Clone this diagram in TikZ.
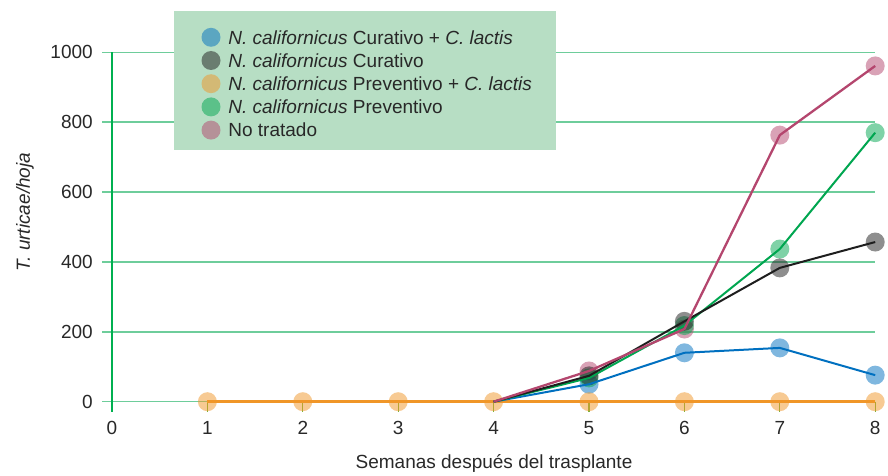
\documentclass[tikz,border=0pt]{standalone}
\usepackage{fontspec}
\setmainfont{Liberation Sans}
\usetikzlibrary{positioning}
\definecolor{gridGreen}{RGB}{110,205,155}
\definecolor{axisGreen}{RGB}{0,176,80}
\definecolor{tickGreen}{RGB}{120,180,60}
\definecolor{legendGreen}{RGB}{183,222,196}
\definecolor{textGray}{RGB}{40,40,40}
\definecolor{serieBlue}{RGB}{0,112,192}
\definecolor{serieBlack}{RGB}{30,30,30}
\definecolor{serieOrange}{RGB}{240,150,40}
\definecolor{serieGreen}{RGB}{0,166,80}
\definecolor{seriePink}{RGB}{180,70,110}

\begin{document}
\begin{tikzpicture}[
    font=\fontsize{19}{22}\selectfont, text=textGray,
    gridline/.style={gridGreen, line width=1.5pt},
    serie/.style={line width=2pt, line join=round},
    dot/.style={circle, fill=#1, fill opacity=0.5, minimum size=19pt, inner sep=0pt},
    ticklabel/.style={inner sep=0pt},
    entry/.style={inner sep=0pt, anchor=west}
]
\useasboundingbox (0,0) rectangle (888pt,-476pt);

\begin{scope}[shift={(112pt,-401.7pt)}, x=95.4pt, y=0.3494pt]
\foreach \v in {0,200,...,1000} {
    \draw[gridline] (-0.1,\v) -- (8,\v);
    \node[ticklabel, anchor=east] (y\v) at (-0.2,\v) {\v};
}
\draw[axisGreen, line width=1.5pt] (0,1000) -- (0,-29);
\foreach \x in {1,...,8}
    \draw[tickGreen, line width=1.2pt] (\x,0) -- (\x,-29);
\foreach \x in {0,...,8}
    \node[ticklabel] (x\x) at (\x,-75) {\x};

% circles
\foreach \x/\v in {5/88,6/208,7/763,8/961}
    \node[dot=seriePink] (nt\x) at (\x,\v) {};
\foreach \x/\v in {5/50,6/140,7/154,8/76}
    \node[dot=serieBlue] (cb\x) at (\x,\v) {};
\foreach \x/\v in {5/68,6/218,7/437,8/770}
    \node[dot=serieGreen] (pv\x) at (\x,\v) {};
\foreach \x/\v in {5/74,6/230,7/383,8/457}
    \node[dot=serieBlack] (cu\x) at (\x,\v) {};
\foreach \x in {1,...,8}
    \node[dot=serieOrange] (pcl\x) at (\x,0) {};

% lines
\draw[serie, serieOrange, line width=2.5pt] (pcl1.center) -- (pcl8.center);
\draw[serie, serieBlue] (pcl4.center) -- (cb5.center) -- (cb6.center) -- (cb7.center) -- (cb8.center);
\draw[serie, serieGreen] (pcl4.center) -- (pv5.center) -- (pv6.center) -- (pv7.center) -- (pv8.center);
\draw[serie, serieBlack] (pcl4.center) -- (cu5.center) -- (cu6.center) -- (cu7.center) -- (cu8.center);
\draw[serie, seriePink, line width=2.3pt] (pcl4.center) -- (nt5.center) -- (nt6.center) -- (nt7.center) -- (nt8.center);
\end{scope}

% legend
\node[fill=legendGreen, minimum width=382pt, minimum height=139pt, inner sep=0pt] (legend) at (365pt,-80.5pt) {};
\node[dot=serieBlue] (d1) at (211pt,-37.3pt) {};
\node[dot=serieBlack, below=3.8pt of d1] (d2) {};
\node[dot=serieOrange, below=3.8pt of d2] (d3) {};
\node[dot=serieGreen, below=3.8pt of d3] (d4) {};
\node[dot=seriePink, below=3.8pt of d4] (d5) {};
\node[entry, right=7.5pt of d1] (e1) {\textit{N. californicus} Curativo + \textit{C. lactis}};
\node[entry, right=7.5pt of d2] (e2) {\textit{N. californicus} Curativo};
\node[entry, right=7.5pt of d3] (e3) {\textit{N. californicus} Preventivo + \textit{C. lactis}};
\node[entry, right=7.5pt of d4] (e4) {\textit{N. californicus} Preventivo};
\node[entry, right=7.5pt of d5] (e5) {No tratado};

% axis titles
\node (xtitle) at (494pt,-463pt) {Semanas después del trasplante};
\node[rotate=90] (ytitle) at (25pt,-212pt) {\textit{T. urticae/hoja}};
\end{tikzpicture}
\end{document}
